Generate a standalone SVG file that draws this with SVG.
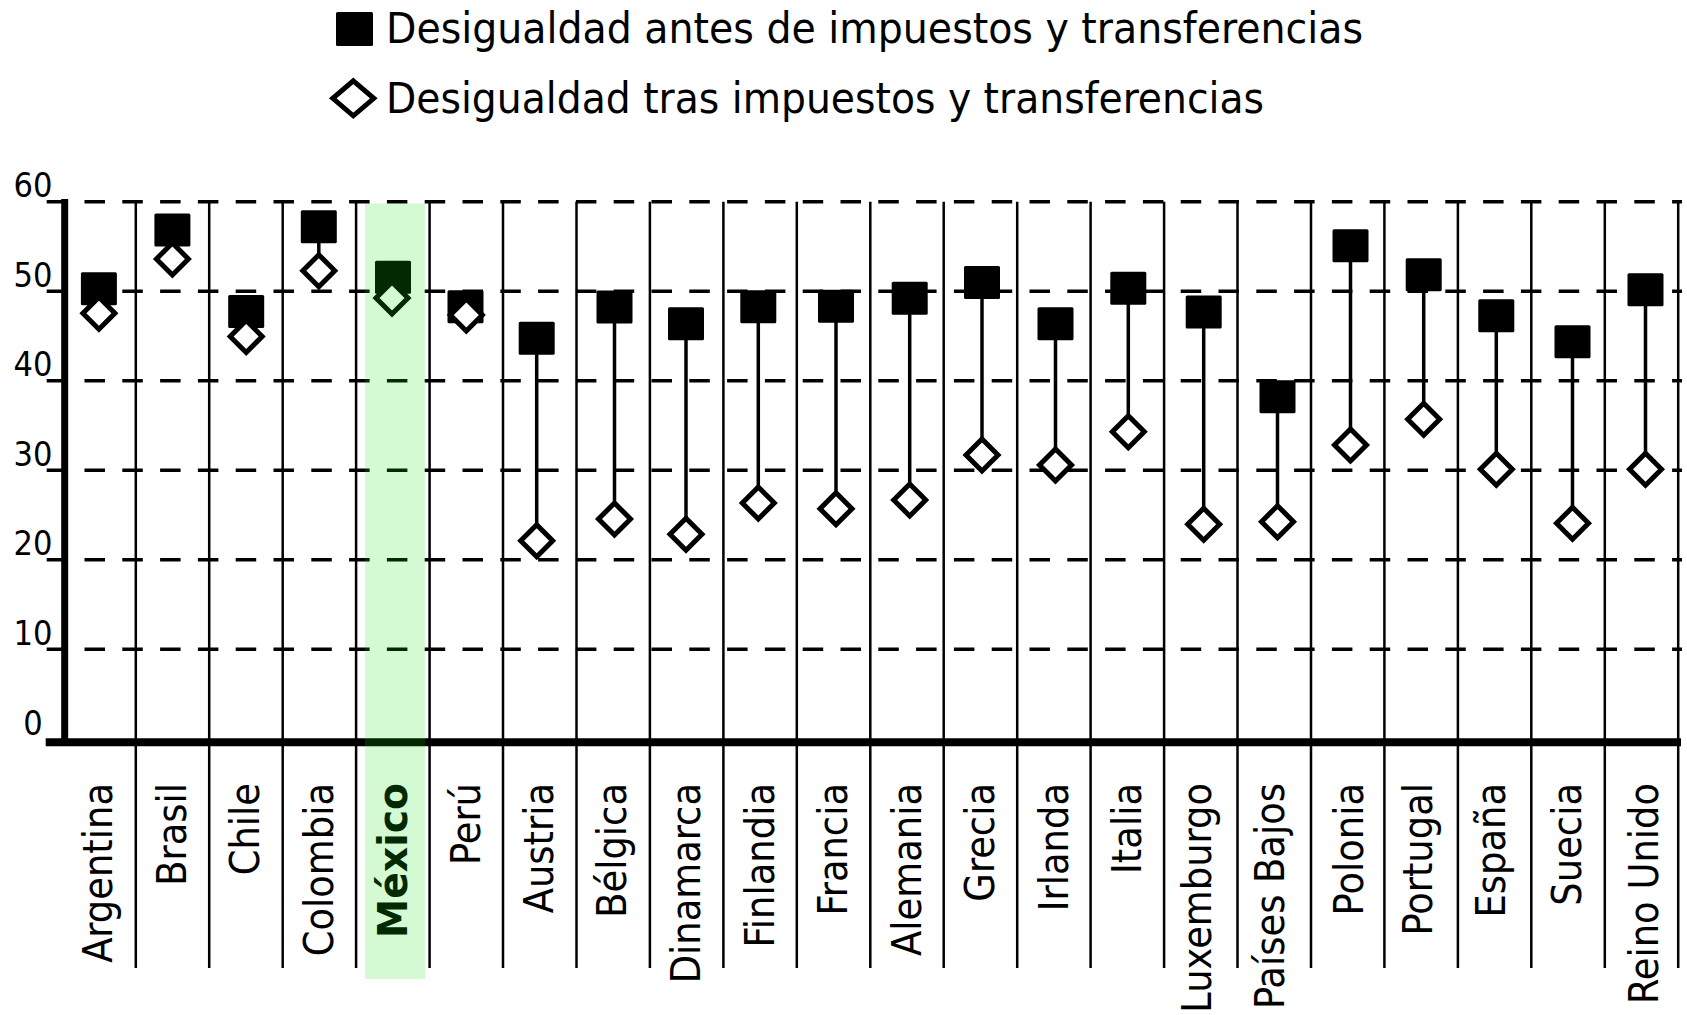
<svg xmlns="http://www.w3.org/2000/svg" width="1687" height="1015" viewBox="0 0 1687 1015">
<style>
  text { font-family: "DejaVu Sans Condensed", "DejaVu Sans", sans-serif; font-stretch: condensed; fill: #000; }
  .leg { font-size: 43.5px; }
  .tick { font-size: 34px; text-anchor: middle; }
  .lab { font-size: 41px; text-anchor: end; }
  .grid { stroke: #000; stroke-width: 3.5; stroke-dasharray: 20.5 17.3; fill: none; }
  .sep { stroke: #000; stroke-width: 2.5; fill: none; }
  .axis { stroke: #000; fill: none; }
  .con { stroke: #000; stroke-width: 3.5; fill: none; }
  .sq { fill: #000; }
  .dia { fill: #fff; stroke: #000; stroke-width: 5; stroke-linejoin: miter; }
</style>
<defs>
  <rect id="sqm" x="-18" y="-16.5" width="36" height="33" rx="1.5"/>
  <path id="dim" d="M0,-16 L16,0 L0,16 L-16,0 Z"/>
</defs>
<rect width="1687" height="1015" fill="#fff"/>

<g id="legend">
  <rect class="sq" x="336" y="12" width="37" height="34" rx="1.5"/>
  <text class="leg" x="386" y="43.3" textLength="977" lengthAdjust="spacingAndGlyphs">Desigualdad antes de impuestos y transferencias</text>
  <path class="dia" d="M353.3,80.8 L373.8,98.3 L353.3,115.8 L332.8,98.3 Z"/>
  <text class="leg" x="386" y="113" textLength="878" lengthAdjust="spacingAndGlyphs">Desigualdad tras impuestos y transferencias</text>
</g>

<g id="grid">
  <line class="grid" x1="46.7" y1="201.7" x2="1682" y2="201.7"/>
  <line class="grid" x1="46.7" y1="291.2" x2="1682" y2="291.2"/>
  <line class="grid" x1="46.7" y1="380.7" x2="1682" y2="380.7"/>
  <line class="grid" x1="46.7" y1="470.2" x2="1682" y2="470.2"/>
  <line class="grid" x1="46.7" y1="559.7" x2="1682" y2="559.7"/>
  <line class="grid" x1="46.7" y1="649.2" x2="1682" y2="649.2"/>
</g>

<g id="y-axis-labels">
  <text class="tick" x="33" y="197">60</text>
  <text class="tick" x="33" y="287">50</text>
  <text class="tick" x="33" y="376">40</text>
  <text class="tick" x="33" y="466">30</text>
  <text class="tick" x="33" y="555">20</text>
  <text class="tick" x="33" y="645">10</text>
  <text class="tick" x="33" y="735">0</text>
</g>

<g id="separators">
  <line class="sep" x1="135.8" y1="201.7" x2="135.8" y2="968"/>
  <line class="sep" x1="209.2" y1="201.7" x2="209.2" y2="968"/>
  <line class="sep" x1="282.7" y1="201.7" x2="282.7" y2="968"/>
  <line class="sep" x1="356.1" y1="201.7" x2="356.1" y2="968"/>
  <line class="sep" x1="429.6" y1="201.7" x2="429.6" y2="968"/>
  <line class="sep" x1="503.0" y1="201.7" x2="503.0" y2="968"/>
  <line class="sep" x1="576.5" y1="201.7" x2="576.5" y2="968"/>
  <line class="sep" x1="649.9" y1="201.7" x2="649.9" y2="968"/>
  <line class="sep" x1="723.4" y1="201.7" x2="723.4" y2="968"/>
  <line class="sep" x1="796.8" y1="201.7" x2="796.8" y2="968"/>
  <line class="sep" x1="870.3" y1="201.7" x2="870.3" y2="968"/>
  <line class="sep" x1="943.7" y1="201.7" x2="943.7" y2="968"/>
  <line class="sep" x1="1017.2" y1="201.7" x2="1017.2" y2="968"/>
  <line class="sep" x1="1090.6" y1="201.7" x2="1090.6" y2="968"/>
  <line class="sep" x1="1164.1" y1="201.7" x2="1164.1" y2="968"/>
  <line class="sep" x1="1237.5" y1="201.7" x2="1237.5" y2="968"/>
  <line class="sep" x1="1311.0" y1="201.7" x2="1311.0" y2="968"/>
  <line class="sep" x1="1384.4" y1="201.7" x2="1384.4" y2="968"/>
  <line class="sep" x1="1457.9" y1="201.7" x2="1457.9" y2="968"/>
  <line class="sep" x1="1531.3" y1="201.7" x2="1531.3" y2="968"/>
  <line class="sep" x1="1604.8" y1="201.7" x2="1604.8" y2="968"/>
  <line class="sep" x1="1678.2" y1="201.7" x2="1678.2" y2="968"/>
</g>

<g id="axes">
  <line class="axis" x1="64.7" y1="199" x2="64.7" y2="742" stroke-width="7"/>
  <line class="axis" x1="45.7" y1="742.3" x2="1681" y2="742.3" stroke-width="8"/>
</g>

<g id="connectors">
  <line class="con" x1="318.8" y1="226.7" x2="318.8" y2="270.8"/>
  <line class="con" x1="536.7" y1="338.2" x2="536.7" y2="540.8"/>
  <line class="con" x1="614.5" y1="307" x2="614.5" y2="519"/>
  <line class="con" x1="686" y1="323.7" x2="686" y2="534.2"/>
  <line class="con" x1="758.3" y1="306.7" x2="758.3" y2="503"/>
  <line class="con" x1="836" y1="306.3" x2="836" y2="508.8"/>
  <line class="con" x1="909.7" y1="298.3" x2="909.7" y2="500"/>
  <line class="con" x1="982" y1="282.5" x2="982" y2="455"/>
  <line class="con" x1="1055.5" y1="323.7" x2="1055.5" y2="465"/>
  <line class="con" x1="1128.3" y1="288.3" x2="1128.3" y2="431.7"/>
  <line class="con" x1="1203.7" y1="312" x2="1203.7" y2="524.3"/>
  <line class="con" x1="1277.5" y1="396.7" x2="1277.5" y2="521.7"/>
  <line class="con" x1="1350.5" y1="245.7" x2="1350.5" y2="445"/>
  <line class="con" x1="1423.7" y1="274.7" x2="1423.7" y2="419.3"/>
  <line class="con" x1="1496.3" y1="315.8" x2="1496.3" y2="469.3"/>
  <line class="con" x1="1572.5" y1="341.8" x2="1572.5" y2="523.3"/>
  <line class="con" x1="1645.5" y1="289.7" x2="1645.5" y2="469.3"/>
</g>

<g id="argentina"><use href="#sqm" class="sq" x="98.9" y="288.7"/><use href="#dim" class="dia" x="98.9" y="313.3"/><text class="lab" transform="translate(112,783) rotate(-90)">Argentina</text></g>
<g id="brasil"><use href="#sqm" class="sq" x="172.4" y="230"/><use href="#dim" class="dia" x="172.4" y="259"/><text class="lab" transform="translate(186,783) rotate(-90)">Brasil</text></g>
<g id="chile"><use href="#sqm" class="sq" x="246.2" y="311.6"/><use href="#dim" class="dia" x="246.2" y="336.4"/><text class="lab" transform="translate(259,783) rotate(-90)">Chile</text></g>
<g id="colombia"><use href="#sqm" class="sq" x="318.8" y="226.7"/><use href="#dim" class="dia" x="318.8" y="270.8"/><text class="lab" transform="translate(333,783) rotate(-90)">Colombia</text></g>
<g id="mexico"><use href="#sqm" class="sq" x="393" y="277.2"/><use href="#dim" class="dia" x="392" y="298"/><text class="lab" font-weight="bold" textLength="155" lengthAdjust="spacingAndGlyphs" transform="translate(407,783) rotate(-90)">México</text></g>
<g id="peru"><use href="#sqm" class="sq" x="465.5" y="306.7"/><use href="#dim" class="dia" x="466.3" y="315"/><text class="lab" transform="translate(480,783) rotate(-90)">Perú</text></g>
<g id="austria"><use href="#sqm" class="sq" x="536.7" y="338.2"/><use href="#dim" class="dia" x="536.7" y="540.8"/><text class="lab" transform="translate(553,783) rotate(-90)">Austria</text></g>
<g id="belgica"><use href="#sqm" class="sq" x="614.5" y="307"/><use href="#dim" class="dia" x="614.5" y="519"/><text class="lab" transform="translate(626,783) rotate(-90)">Bélgica</text></g>
<g id="dinamarca"><use href="#sqm" class="sq" x="686" y="323.7"/><use href="#dim" class="dia" x="686" y="534.2"/><text class="lab" transform="translate(700,783) rotate(-90)">Dinamarca</text></g>
<g id="finlandia"><use href="#sqm" class="sq" x="758.3" y="306.7"/><use href="#dim" class="dia" x="758.3" y="503"/><text class="lab" transform="translate(774,783) rotate(-90)">Finlandia</text></g>
<g id="francia"><use href="#sqm" class="sq" x="836" y="306.3"/><use href="#dim" class="dia" x="836" y="508.8"/><text class="lab" transform="translate(847,783) rotate(-90)">Francia</text></g>
<g id="alemania"><use href="#sqm" class="sq" x="909.7" y="298.3"/><use href="#dim" class="dia" x="909.7" y="500"/><text class="lab" transform="translate(921,783) rotate(-90)">Alemania</text></g>
<g id="grecia"><use href="#sqm" class="sq" x="982" y="282.5"/><use href="#dim" class="dia" x="982" y="455"/><text class="lab" transform="translate(994,783) rotate(-90)">Grecia</text></g>
<g id="irlanda"><use href="#sqm" class="sq" x="1055.5" y="323.7"/><use href="#dim" class="dia" x="1055.5" y="465"/><text class="lab" transform="translate(1068,783) rotate(-90)">Irlanda</text></g>
<g id="italia"><use href="#sqm" class="sq" x="1128.3" y="288.3"/><use href="#dim" class="dia" x="1128.3" y="431.7"/><text class="lab" transform="translate(1141,783) rotate(-90)">Italia</text></g>
<g id="luxemburgo"><use href="#sqm" class="sq" x="1203.7" y="312"/><use href="#dim" class="dia" x="1203.7" y="524.3"/><text class="lab" transform="translate(1211,783) rotate(-90)">Luxemburgo</text></g>
<g id="paises-bajos"><use href="#sqm" class="sq" x="1277.5" y="396.7"/><use href="#dim" class="dia" x="1277.5" y="521.7"/><text class="lab" transform="translate(1284,783) rotate(-90)">Países Bajos</text></g>
<g id="polonia"><use href="#sqm" class="sq" x="1350.5" y="245.7"/><use href="#dim" class="dia" x="1350.5" y="445"/><text class="lab" transform="translate(1363,783) rotate(-90)">Polonia</text></g>
<g id="portugal"><use href="#sqm" class="sq" x="1423.7" y="274.7"/><use href="#dim" class="dia" x="1423.7" y="419.3"/><text class="lab" transform="translate(1432,783) rotate(-90)">Portugal</text></g>
<g id="espana"><use href="#sqm" class="sq" x="1496.3" y="315.8"/><use href="#dim" class="dia" x="1496.3" y="469.3"/><text class="lab" transform="translate(1505,783) rotate(-90)">España</text></g>
<g id="suecia"><use href="#sqm" class="sq" x="1572.5" y="341.8"/><use href="#dim" class="dia" x="1572.5" y="523.3"/><text class="lab" transform="translate(1581,783) rotate(-90)">Suecia</text></g>
<g id="reino-unido"><use href="#sqm" class="sq" x="1645.5" y="289.7"/><use href="#dim" class="dia" x="1645.5" y="469.3"/><text class="lab" transform="translate(1658,783) rotate(-90)">Reino Unido</text></g>

<rect id="highlight-mexico" x="365" y="203.5" width="60" height="775.5" fill="rgb(10,227,10)" fill-opacity="0.18"/>
</svg>
